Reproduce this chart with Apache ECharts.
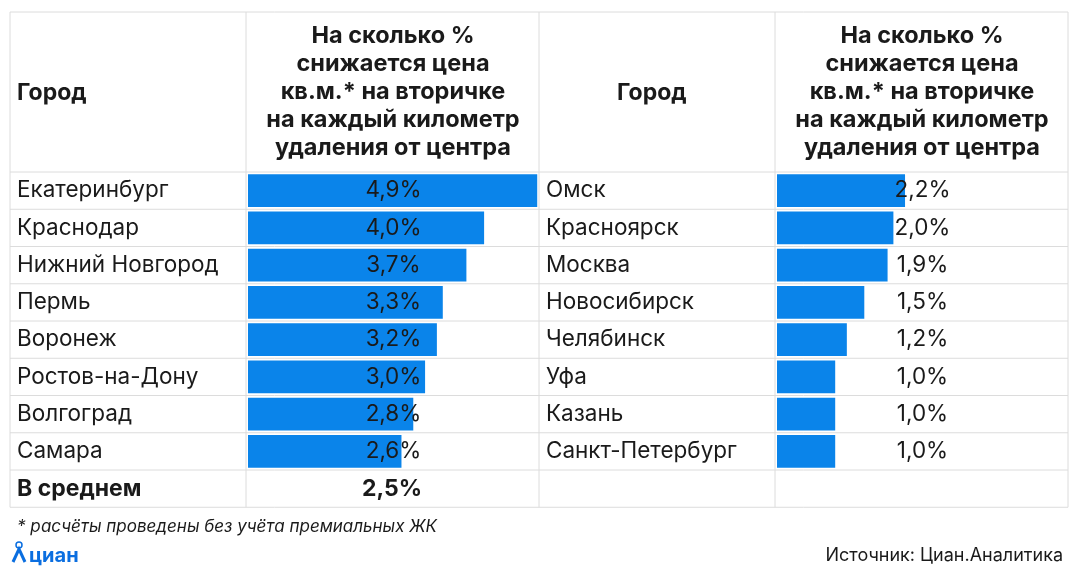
<!DOCTYPE html>
<html><head><meta charset="utf-8">
<script src="https://cdn.jsdelivr.net/npm/echarts@6/dist/echarts.min.js"></script>
<style>html,body{margin:0;background:#fff}#c{width:1080px;height:576px}</style>
</head><body><div id="c"></div>
<script>
var leftCities = ['Екатеринбург','Краснодар','Нижний Новгород','Пермь','Воронеж','Ростов-на-Дону','Волгоград','Самара'];
var leftValues = [4.9, 4.0, 3.7, 3.3, 3.2, 3.0, 2.8, 2.6];
var rightCities = ['Омск','Красноярск','Москва','Новосибирск','Челябинск','Уфа','Казань','Санкт-Петербург'];
var rightValues = [2.2, 2.0, 1.9, 1.5, 1.2, 1.0, 1.0, 1.0];
var averageLabel = 'В среднем';
var averageValue = '2,5%';
var headerText = 'На сколько %\nснижается цена\nкв.м.* на вторичке\nна каждый километр\nудаления от центра';

var chart = echarts.init(document.getElementById('c'));
var F = 'Inter, Roboto, sans-serif';
function pct(v){ return v.toFixed(1).replace('.', ',') + '%'; }

var cols = [10, 246, 539, 775, 1068];
var rowTop = 172, rowH = 37.25;
var lines = [];
cols.forEach(function(x){ lines.push({type:'line', shape:{x1:x,y1:12,x2:x,y2:rowTop+9*rowH}, style:{stroke:'#dcdcdc',lineWidth:1}}); });
[12].concat([0,1,2,3,4,5,6,7,8,9].map(function(i){return rowTop+i*rowH;})).forEach(function(y){
  lines.push({type:'line', shape:{x1:10,y1:y,x2:1068,y2:y}, style:{stroke:'#dcdcdc',lineWidth:1}});
});

function makeAxes(grid, cities, values, colW, labelMargin){
  return {
    yCat: {type:'category', gridIndex:grid, data:cities, inverse:true, z:5,
      axisLine:{show:false}, axisTick:{show:false},
      axisLabel:{align:'left', margin:labelMargin, fontSize:22.5, color:'#1a1a1a', fontFamily:F}},
    yVal: {type:'category', gridIndex:grid, data:values.map(pct), inverse:true, position:'right', z:5,
      axisLine:{show:false}, axisTick:{show:false},
      axisLabel:{align:'center', margin:-colW/2, fontSize:22.5, color:'#1a1a1a', fontFamily:F}}
  };
}
var a1 = makeAxes(0, leftCities, leftValues, 291, 231);
var a2 = makeAxes(1, rightCities, rightValues, 291, 231);

chart.setOption({
  animation:false,
  grid:[
    {left:248, width:291, top:rowTop, height:8*rowH},
    {left:777, width:291, top:rowTop, height:8*rowH}
  ],
  xAxis:[
    {type:'value', gridIndex:0, min:0, max:4.93, show:false},
    {type:'value', gridIndex:1, min:0, max:5.0, show:false}
  ],
  yAxis:[a1.yCat, a1.yVal, a2.yCat, a2.yVal],
  series:[
    {type:'bar', xAxisIndex:0, yAxisIndex:0, data:leftValues, barCategoryGap:'12%', itemStyle:{color:'#0a84ea'}, z:1},
    {type:'bar', xAxisIndex:1, yAxisIndex:2, data:rightValues, barCategoryGap:'12%', itemStyle:{color:'#0a84ea'}, z:1}
  ],
  graphic: lines.concat([
    {type:'text', x:17, y:93, style:{text:'Город', font:'bold 23px '+F, fill:'#1a1a1a', verticalAlign:'middle'}},
    {type:'text', x:617, y:93, style:{text:'Город', font:'bold 23px '+F, fill:'#1a1a1a', verticalAlign:'middle'}},
    {type:'text', x:393, y:92, style:{text:headerText, font:'bold 23.5px '+F, fill:'#1a1a1a', align:'center', verticalAlign:'middle', lineHeight:28}},
    {type:'text', x:922, y:92, style:{text:headerText, font:'bold 23.5px '+F, fill:'#1a1a1a', align:'center', verticalAlign:'middle', lineHeight:28}},
    {type:'text', x:17, y:rowTop+8.5*rowH, style:{text:averageLabel, font:'bold 23px '+F, fill:'#1a1a1a', verticalAlign:'middle'}},
    {type:'text', x:392, y:rowTop+8.5*rowH, style:{text:averageValue, font:'bold 23px '+F, fill:'#1a1a1a', align:'center', verticalAlign:'middle'}},
    {type:'text', x:17, y:527, style:{text:'* расчёты проведены без учёта премиальных ЖК', font:'italic 17px '+F, fill:'#1a1a1a', verticalAlign:'middle'}},
    {type:'circle', shape:{cx:19, cy:545, r:3}, style:{stroke:'#0a6ee0', fill:'none', lineWidth:1.5}},
    {type:'polyline', shape:{points:[[13,562],[19,549],[25,562]]}, style:{stroke:'#0a6ee0', lineWidth:3, fill:'none'}},
    {type:'text', x:29, y:556, style:{text:'циан', font:'bold 20px '+F, fill:'#0a6ee0', verticalAlign:'middle'}},
    {type:'text', x:1063, y:556, style:{text:'Источник: Циан.Аналитика', font:'18px '+F, fill:'#1a1a1a', align:'right', verticalAlign:'middle'}}
  ])
});
window.onresize = chart.resize;
</script></body></html>
